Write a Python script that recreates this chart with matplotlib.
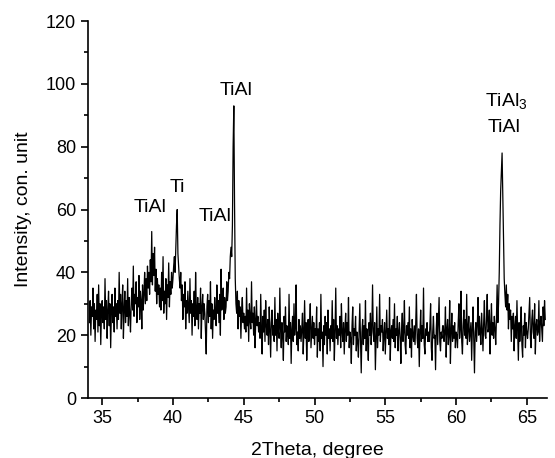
import numpy as np
import matplotlib
matplotlib.use("Agg")
import matplotlib.pyplot as plt
from matplotlib.ticker import MultipleLocator

plt.rcParams['font.family'] = ['Liberation Sans', 'DejaVu Sans']
plt.rcParams['mathtext.fontset'] = 'custom'
plt.rcParams['mathtext.rm'] = 'Liberation Sans'
plt.rcParams['mathtext.it'] = 'Liberation Sans'

# 2Theta start and step (degrees)
theta_start = 34.1
theta_step = 0.05

# Intensity values, one row per degree
intensity = [
    24, 31, 20, 29, 26, 35, 22, 30, 18, 28, 25, 33, 21, 36, 23, 30, 17, 27, 31, 24,
    29, 22, 38, 25, 31, 19, 28, 34, 23, 30, 16, 27, 33, 24, 29, 21, 35, 26, 30, 22,
    31, 25, 40, 27, 33, 22, 30, 36, 19, 28, 34, 24, 31, 26, 38, 23, 32, 27, 21, 30,
    35, 28, 42, 26, 33, 30, 37, 24, 32, 29, 39, 25, 34, 31, 22, 36, 28, 33, 40, 30,
    38, 31, 42, 35, 40, 33, 44, 37, 53, 36, 46, 39, 48, 34, 41, 30, 38, 33, 36, 29,
    35, 28, 40, 31, 45, 27, 34, 30, 38, 25, 36, 32, 43, 29, 37, 33, 40, 35, 38, 42,
    45, 40, 48, 55, 60, 46, 42, 38, 35, 40, 31, 36, 25, 33, 29, 37, 22, 31, 27, 34,
    29, 24, 38, 27, 31, 20, 30, 26, 34, 23, 40, 28, 25, 32, 22, 30, 27, 35, 19, 29,
    33, 25, 30, 27, 21, 14, 29, 33, 24, 31, 26, 37, 22, 30, 19, 28, 25, 32, 27, 23,
    36, 27, 31, 24, 33, 20, 41, 28, 30, 35, 25, 32, 27, 29, 37, 31, 34, 40, 38, 45,
    48, 45, 55, 80, 93, 62, 38, 30, 27, 34, 22, 31, 26, 29, 19, 28, 32, 24, 27, 22,
    26, 21, 35, 23, 28, 18, 30, 25, 22, 37, 24, 27, 20, 29, 16, 25, 31, 23, 26, 21,
    24, 19, 33, 22, 14, 26, 21, 28, 18, 31, 23, 20, 25, 17, 29, 22, 13, 24, 28, 20,
    23, 18, 32, 20, 25, 15, 27, 21, 19, 35, 22, 16, 24, 20, 12, 26, 21, 29, 18, 23,
    21, 17, 33, 19, 24, 11, 22, 26, 18, 30, 20, 23, 36, 17, 21, 15, 25, 19, 23, 18,
    22, 27, 14, 21, 31, 19, 24, 12, 20, 25, 18, 23, 30, 16, 21, 26, 19, 24, 17, 22,
    20, 29, 13, 22, 18, 24, 15, 33, 19, 21, 10, 23, 17, 26, 20, 24, 14, 28, 19, 22,
    15, 23, 19, 31, 18, 25, 12, 21, 35, 19, 23, 17, 22, 20, 26, 16, 30, 21, 18, 24,
    14, 22, 27, 18, 24, 20, 32, 16, 21, 19, 11, 23, 29, 17, 22, 20, 26, 15, 21, 18,
    13, 22, 30, 18, 8, 21, 25, 17, 23, 19, 31, 15, 22, 18, 12, 24, 20, 27, 17, 22,
    36, 21, 18, 24, 9, 19, 29, 16, 22, 20, 33, 18, 23, 21, 25, 15, 20, 24, 14, 21,
    28, 19, 22, 17, 32, 12, 21, 23, 19, 25, 18, 30, 16, 22, 20, 26, 15, 21, 24, 19,
    11, 22, 27, 18, 21, 31, 17, 14, 23, 20, 24, 19, 29, 16, 22, 13, 25, 20, 18, 23,
    17, 24, 33, 19, 16, 22, 10, 21, 28, 18, 23, 19, 35, 17, 14, 22, 20, 24, 18, 21,
    18, 23, 30, 16, 12, 21, 26, 19, 20, 9, 22, 27, 17, 24, 32, 18, 15, 21, 19, 23,
    23, 18, 21, 29, 13, 22, 25, 17, 20, 31, 11, 21, 27, 18, 23, 19, 24, 16, 21, 20,
    16, 24, 30, 19, 22, 34, 18, 14, 23, 28, 20, 25, 19, 33, 17, 22, 26, 18, 21, 24,
    12, 22, 29, 19, 8, 21, 24, 18, 23, 32, 20, 26, 21, 17, 27, 22, 15, 24, 31, 20,
    19, 25, 33, 21, 22, 28, 14, 23, 30, 20, 24, 19, 26, 22, 17, 25, 36, 24, 30, 40,
    55, 66, 72, 78, 64, 48, 38, 33, 29, 36, 28, 33, 22, 30, 25, 28, 18, 26, 22, 27,
    15, 23, 26, 19, 31, 21, 12, 24, 18, 22, 29, 17, 13, 23, 20, 27, 16, 24, 21, 19,
    22, 27, 32, 19, 16, 25, 28, 21, 19, 30, 14, 23, 25, 20, 21, 31, 18, 24, 26, 22,
    18, 29, 23, 31, 25,
]

# Peak labels: (text, 2Theta, intensity)
peak_labels = [
    ("TiAl", 38.4, 60.5),
    ("Ti", 40.3, 67.0),
    ("TiAl", 43.0, 57.7),
    ("TiAl", 44.45, 98.0),
    ("TiAl$_3$", 63.55, 94.5),
    ("TiAl", 63.4, 86.0),
]

two_theta = theta_start + theta_step * np.arange(len(intensity))

fig = plt.figure(figsize=(5.55, 4.58), dpi=100)
ax = fig.add_axes([0.1586, 0.131, 0.8264, 0.823])
ax.plot(two_theta, intensity, color='black', linewidth=0.9)

ax.set_xlim(34.0, 66.4)
ax.set_ylim(0, 120)
ax.xaxis.set_major_locator(MultipleLocator(5))
ax.xaxis.set_minor_locator(MultipleLocator(2.5))
ax.yaxis.set_major_locator(MultipleLocator(20))
ax.yaxis.set_minor_locator(MultipleLocator(10))
ax.tick_params(which='major', direction='out', length=5, width=1.2, labelsize=13)
ax.tick_params(which='minor', direction='out', length=3, width=1.2)
for s in ['top', 'right']:
    ax.spines[s].set_visible(False)
for s in ['left', 'bottom']:
    ax.spines[s].set_linewidth(1.2)

ax.set_xlabel("2Theta, degree", fontsize=14, labelpad=11)
ax.set_ylabel("Intensity, con. unit", fontsize=14, labelpad=10)

for txt, xx, yy in peak_labels:
    ax.text(xx, yy, txt, ha='center', va='center', fontsize=14)

fig.savefig("out.png", dpi=100)
